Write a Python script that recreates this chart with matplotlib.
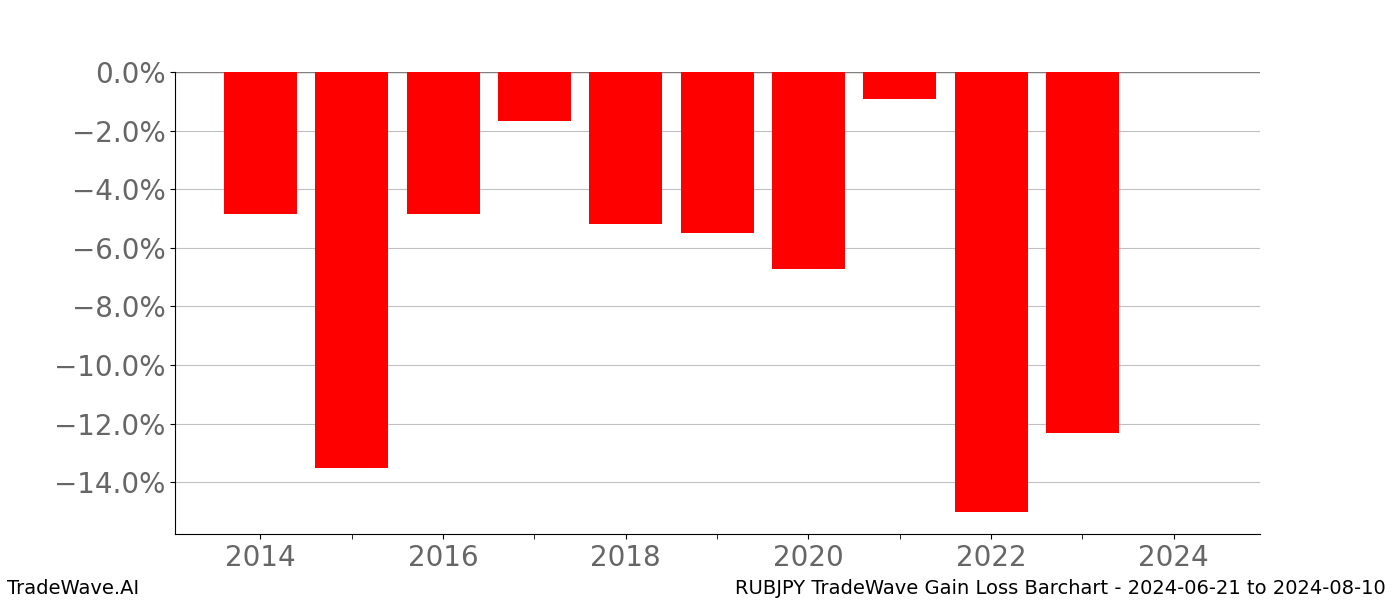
import matplotlib
matplotlib.use('Agg')
import matplotlib.pyplot as plt
from matplotlib.ticker import FuncFormatter, MultipleLocator

years = [2014, 2015, 2016, 2017, 2018, 2019, 2020, 2021, 2022, 2023]
gains = [-4.85, -13.52, -4.85, -1.67, -5.19, -5.50, -6.73, -0.92, -15.02, -12.33]

title = 'RUBJPY TradeWave Gain Loss Barchart - 2024-06-21 to 2024-08-10'

fig = plt.figure(figsize=(14, 6), dpi=100)
ax = fig.add_axes([0.125, 0.11, 0.775, 0.77])

ax.bar(years, gains, width=0.8, color='red', zorder=3)
ax.axhline(0, color='#808080', linewidth=1, zorder=2)

ax.set_xlim(2013.064, 2024.944)
ax.set_ylim(-15.77, 0)
ax.xaxis.set_major_locator(MultipleLocator(2))
ax.xaxis.set_minor_locator(MultipleLocator(1))
ax.tick_params(axis='x', which='minor', length=3.5)
ax.yaxis.set_major_locator(MultipleLocator(2))
ax.yaxis.set_major_formatter(FuncFormatter(lambda v, p: f'{v:.1f}%'.replace('-', '\u2212')))
ax.tick_params(axis='both', labelsize=20, labelcolor='#666666')

ax.grid(axis='y', color='#c0c0c0', linewidth=0.8, zorder=1)
ax.spines['top'].set_visible(False)
ax.spines['right'].set_visible(False)

fig.text(0.005, 0.003, 'TradeWave.AI', fontsize=14, ha='left', va='bottom')
fig.text(0.99, 0.003, title, fontsize=14, ha='right', va='bottom')

fig.savefig('out.png')
